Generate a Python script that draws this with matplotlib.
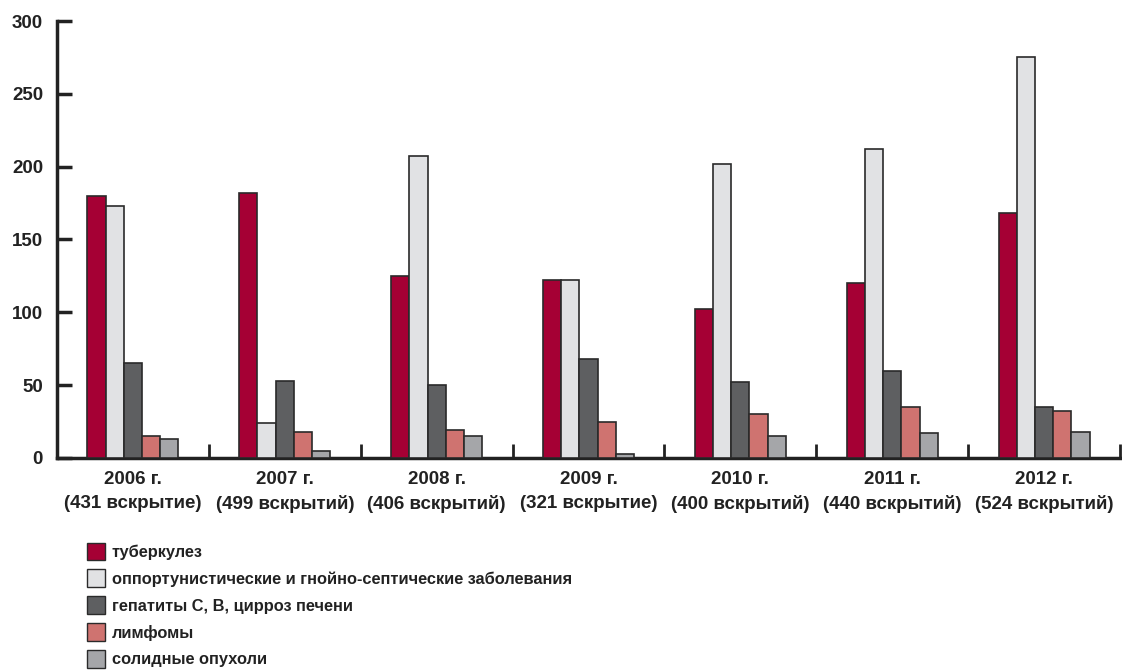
import numpy as np
import matplotlib as ma
ma.use('agg')
import matplotlib.pyplot as plt
from matplotlib.patches import Patch

plt.rcParams['font.family'] = ['Liberation Sans', 'DejaVu Sans']
plt.rcParams['font.weight'] = 'bold'

years = ['2006 г.\n(431 вскрытие)', '2007 г.\n(499 вскрытий)', '2008 г.\n(406 вскрытий)',
         '2009 г.\n(321 вскрытие)', '2010 г.\n(400 вскрытий)', '2011 г.\n(440 вскрытий)',
         '2012 г.\n(524 вскрытий)']
names = ['туберкулез',
         'оппортунистические и гнойно-септические заболевания',
         'гепатиты С, В, цирроз печени',
         'лимфомы',
         'солидные опухоли']
tb = [180, 182, 125, 122, 102, 120, 168]
opport = [173, 24, 207, 122, 202, 212, 275]
hepat = [65, 53, 50, 68, 52, 60, 35]
lymph = [15, 18, 19, 25, 30, 35, 32]
solid = [13, 5, 15, 3, 15, 17, 18]
colors = ['#A50034', '#E1E2E4', '#5E5F61', '#CF7370', '#A5A6A9']

def main():
    fig = plt.figure(figsize=(11.22, 6.71), dpi=100)
    ax = fig.add_axes([57/1122, 1-458/671, (1120-57)/1122, (458-21)/671])
    x = np.arange(len(years))
    w = 0.12
    series = [tb, opport, hepat, lymph, solid]
    for i, s in enumerate(series):
        ax.bar(x + (i-2)*w, s, w, color=colors[i], edgecolor='#2a2a2a', linewidth=1.2, zorder=3)
    ax.set_xlim(-0.5, len(years)-0.5)
    ax.set_ylim(0, 300)
    ax.set_yticks([0, 50, 100, 150, 200, 250, 300])
    ax.set_xticks(x)
    ax.set_xticklabels(years, fontsize=13.5, linespacing=1.55, color='#222')
    ax.set_xticks(np.arange(0.5, len(years), 1), minor=True)
    ax.tick_params(axis='x', which='major', length=0, pad=9)
    ax.tick_params(axis='x', which='minor', direction='in', length=10, width=2, color='#222')
    ax.tick_params(axis='y', direction='in', length=11, width=2.5, color='#222',
                   labelsize=13.5, labelcolor='#222', pad=10)
    for sp in ['top', 'right']:
        ax.spines[sp].set_visible(False)
    for sp in ['left', 'bottom']:
        ax.spines[sp].set_linewidth(2.5)
        ax.spines[sp].set_color('#222')
    handles = [Patch(facecolor=c, edgecolor='#2a2a2a', linewidth=1) for c in colors]
    leg = fig.legend(handles, names, loc='upper left', bbox_to_anchor=(80/1122, 1-536/671),
                     frameon=False, fontsize=11.8, handlelength=1.1, handleheight=1.3,
                     handletextpad=0.45, labelspacing=0.55, borderaxespad=0)
    for t in leg.get_texts():
        t.set_color('#222')
    fig.savefig('out.png')

if __name__ == "__main__":
    main()
